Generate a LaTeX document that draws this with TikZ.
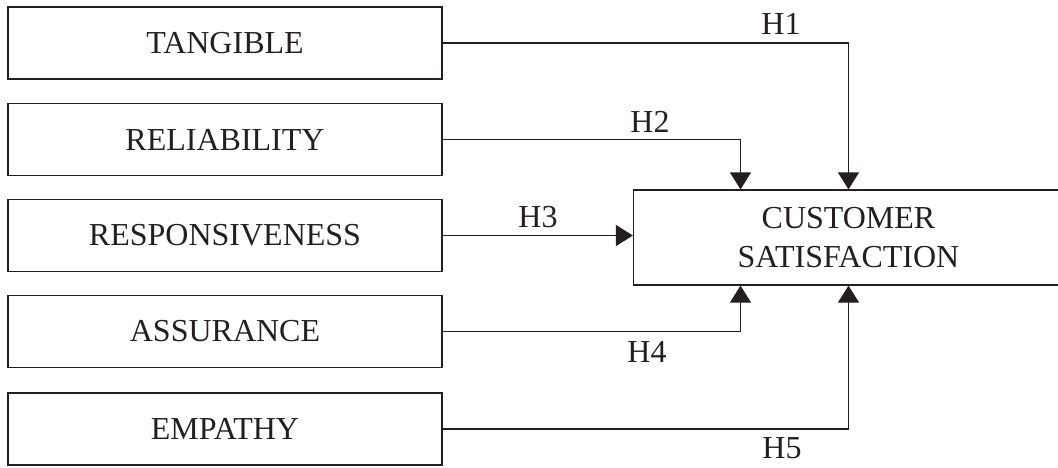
\documentclass[tikz,border=0pt]{standalone}
\usepackage{fontspec}
\setmainfont{Liberation Serif}
\usetikzlibrary{arrows.meta,positioning}
\definecolor{ink}{HTML}{231F20}
\begin{document}
\begin{tikzpicture}[x=1pt,y=1pt,
  every node/.style={text=ink},
  lbox/.style={draw=ink,line width=1.2pt,minimum width=434pt,minimum height=72pt,inner sep=0pt,font=\fontsize{32}{38}\selectfont},
  cbox/.style={draw=ink,line width=1.2pt,minimum width=430pt,minimum height=95pt,inner sep=0pt,align=center,font=\fontsize{32}{39}\selectfont},
  hlab/.style={font=\fontsize{32}{38}\selectfont,inner sep=0pt},
  arr/.style={draw=ink,line width=1.2pt,-{Triangle[width=21pt,length=17pt]}}]
\clip (0,0) rectangle (1058,467);
\path[use as bounding box] (0,0) rectangle (1058,467);
\node[lbox] (tan) at (225,424) {TANGIBLE};
\node[lbox] (rel) at (225,327.5) {RELIABILITY};
\node[lbox] (res) at (225,231.5) {RESPONSIVENESS};
\node[lbox] (ass) at (225,135.5) {ASSURANCE};
\node[lbox] (emp) at (225,38) {EMPATHY};
\node[cbox] (cs) at (848.5,229.5) {CUSTOMER\\SATISFACTION};
\draw[arr] (tan.east) -| (cs.north);
\draw[arr] (rel.east) -| ([xshift=-108pt]cs.north);
\draw[arr] (res.east) -- (res.east -| cs.west);
\draw[arr] (ass.east) -| ([xshift=-108pt]cs.south);
\draw[arr] (emp.east) -| (cs.south);
\node[hlab] (h1) at (781,443) {H1};
\node[hlab] (h2) at (650,345) {H2};
\node[hlab] (h3) at (538,250) {H3};
\node[hlab] (h4) at (647,115) {H4};
\node[hlab] (h5) at (782,19) {H5};
\end{tikzpicture}
\end{document}
